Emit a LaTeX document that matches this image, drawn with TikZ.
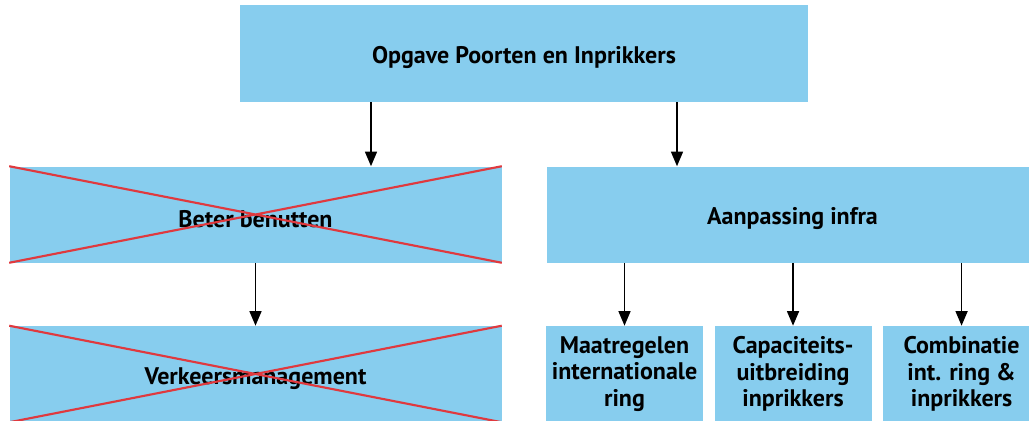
\documentclass[tikz,border=0pt]{standalone}
\usepackage{fontspec}
\setmainfont{PT Sans}
\usetikzlibrary{arrows.meta,positioning}
\definecolor{Sky}{HTML}{87CDEE}
\definecolor{Cross}{HTML}{E0393E}

\begin{document}
\begin{tikzpicture}[x=0.75pt,y=-0.75pt,node distance=8.25pt,>={Triangle[length=11pt,width=9pt]},
    blok/.style={fill=Sky,minimum height=72pt,inner sep=0pt,align=center,font=\bfseries\fontsize{18pt}{20pt}\selectfont,
      execute at begin node={\rule{0pt}{19pt}}},
    breed/.style={blok,minimum width=369pt},
    smal/.style={blok,minimum width=117.75pt},
    pijl/.style={->,line width=1.2pt},
    kruis/.style={Cross,line width=1.6pt}]
    \clip (0,0) rectangle (1029,421);
    \node[blok,minimum width=426pt,minimum height=72.75pt] (opgave) at (524,53.5) {Opgave Poorten en Inprikkers};
    \node[breed] (beter) at (255.5,214.5) {Beter benutten};
    \node[breed] (infra) at (792.5,214.5) {Aanpassing infra};
    \node[breed] (verkeer) at (255.5,374) {Verkeersmanagement};
    \node[smal] (maat) at (624.5,374) {Maatregelen\\internationale\\ring};
    \node[smal,right=of maat] (capa) {Capaciteits-\\uitbreiding\\inprikkers};
    \node[smal,right=of capa] (comb) {Combinatie\\int. ring \&\\inprikkers};
    % verbindingen
    \draw[pijl] ([xshift=-114.75pt]opgave.south) -- ([xshift=-114.75pt]opgave.south |- beter.north);
    \draw[pijl] ([xshift=114.75pt]opgave.south) -- ([xshift=114.75pt]opgave.south |- infra.north);
    \draw[pijl] (beter) -- (verkeer);
    \foreach \v in {maat,capa,comb}\draw[pijl] (\v.north |- infra.south) -- (\v);
    % doorgestreept
    \foreach \v in {beter,verkeer}\draw[kruis] (\v.north west) -- (\v.south east) (\v.south west) -- (\v.north east);
\end{tikzpicture}
\end{document}
